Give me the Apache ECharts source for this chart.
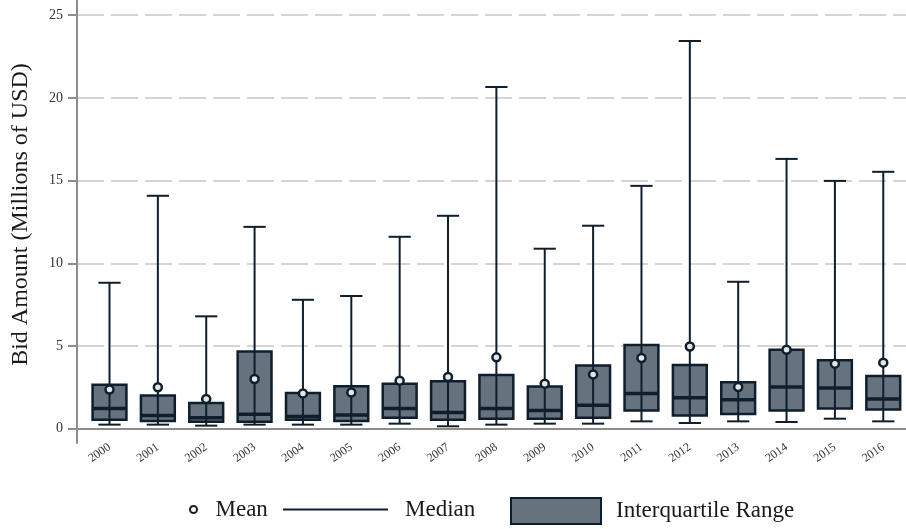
<!DOCTYPE html>
<html>
<head>
<meta charset="utf-8">
<script src="https://cdn.jsdelivr.net/npm/echarts@6/dist/echarts.min.js"></script>
<style>html,body{margin:0;padding:0;background:#fff;}#chart{width:906px;height:529px;}</style>
</head>
<body>
<div id="chart"></div>
<script>
// ---- data ----
const years  = [2000,2001,2002,2003,2004,2005,2006,2007,2008,2009,2010,2011,2012,2013,2014,2015,2016];
const whiskerLow  = [0.24,0.24,0.18,0.24,0.24,0.24,0.30,0.14,0.24,0.30,0.30,0.44,0.34,0.44,0.40,0.60,0.44];
const quartile1   = [0.54,0.46,0.42,0.42,0.54,0.46,0.66,0.54,0.60,0.60,0.66,1.09,0.79,0.89,1.09,1.21,1.15];
const medians     = [1.21,0.79,0.66,0.87,0.74,0.83,1.21,0.97,1.21,1.09,1.41,2.13,1.87,1.75,2.52,2.46,1.79];
const quartile3   = [2.66,2.01,1.55,4.67,2.16,2.56,2.72,2.86,3.24,2.54,3.81,5.06,3.85,2.80,4.77,4.13,3.18];
const whiskerHigh = [8.82,14.08,6.79,12.20,7.79,8.02,11.60,12.87,20.66,10.88,12.27,14.68,23.44,8.88,16.31,14.98,15.53];
const means       = [2.36,2.50,1.79,3.00,2.13,2.19,2.90,3.12,4.31,2.72,3.28,4.27,4.97,2.52,4.77,3.93,3.99];
const yTicks = [0,5,10,15,20,25];

// ---- styles ----
const DARK = '#0f1e2d';
const FILL = '#66737e';
const FONT = '"Liberation Serif", "DejaVu Serif", serif';
const BOX_W = 0.70;
const CAP_W = 0.46;

const boxData = years.map((y, i) => [y, whiskerLow[i], quartile1[i], medians[i], quartile3[i], whiskerHigh[i]]);
const meanData = years.map((y, i) => [y, means[i]]);

function renderBox(params, api) {
  const x = api.value(0);
  const lo = api.coord([x, api.value(1)]);
  const q1 = api.coord([x, api.value(2)]);
  const md = api.coord([x, api.value(3)]);
  const q3 = api.coord([x, api.value(4)]);
  const hi = api.coord([x, api.value(5)]);
  const bw = api.size([BOX_W, 0])[0];
  const cw = api.size([CAP_W, 0])[0];
  return {
    type: 'group',
    children: [
      {type: 'rect', shape: {x: q3[0] - bw / 2, y: q3[1], width: bw, height: q1[1] - q3[1]},
       style: {fill: FILL, stroke: DARK, lineWidth: 2.5}},
      {type: 'line', shape: {x1: lo[0], y1: lo[1], x2: hi[0], y2: hi[1]},
       style: {stroke: DARK, lineWidth: 2}},
      {type: 'line', shape: {x1: lo[0] - cw / 2, y1: lo[1], x2: lo[0] + cw / 2, y2: lo[1]},
       style: {stroke: DARK, lineWidth: 2}},
      {type: 'line', shape: {x1: hi[0] - cw / 2, y1: hi[1], x2: hi[0] + cw / 2, y2: hi[1]},
       style: {stroke: DARK, lineWidth: 2}},
      {type: 'line', shape: {x1: md[0] - bw / 2, y1: md[1], x2: md[0] + bw / 2, y2: md[1]},
       style: {stroke: DARK, lineWidth: 3.5}}
    ]
  };
}

const chart = echarts.init(document.getElementById('chart'), null, {renderer: 'canvas'});
const legendText = {fontFamily: FONT, fontSize: 23, color: '#1a1a1a'};
chart.setOption({
  animation: false,
  backgroundColor: '#ffffff',
  textStyle: {fontFamily: FONT},
  grid: {left: 77, right: 0, top: 0, bottom: 86, containLabel: false},
  xAxis: {
    type: 'value',
    min: 1999.328, max: 2016.47,
    axisLine: {show: true, lineStyle: {color: '#8c8c8c', width: 2}},
    axisTick: {show: false},
    splitLine: {show: false},
    axisLabel: {
      customValues: years,
      rotate: 35, margin: 3,
      fontFamily: FONT, fontSize: 12, color: '#333333',
      formatter: v => String(Math.round(v))
    }
  },
  yAxis: {
    type: 'value',
    min: -0.87, max: 25.92,
    name: 'Bid Amount (Millions of USD)',
    nameLocation: 'middle', nameGap: 44,
    nameTextStyle: {fontFamily: FONT, fontSize: 24, color: '#1a1a1a', padding: [0, 0, 0, 14]},
    axisLine: {show: true, lineStyle: {color: '#8c8c8c', width: 2}},
    axisTick: {show: true, customValues: yTicks, length: 9, lineStyle: {color: '#8c8c8c', width: 2}},
    axisLabel: {customValues: yTicks, margin: 14, fontFamily: FONT, fontSize: 14, color: '#333333'},
    splitLine: {show: true, lineStyle: {color: '#d4d4d4', width: 2, type: [27, 7]}}
  },
  legend: [
    {data: [{name: 'Mean', icon: 'circle'}], left: 189, top: 498, padding: 0, selectedMode: false,
     itemWidth: 14, itemHeight: 7, textStyle: Object.assign({padding: [0, 0, 0, 10]}, legendText),
     itemStyle: {color: '#ffffff', borderColor: DARK, borderWidth: 2}},
    {data: [{name: 'Median', icon: 'rect'}], left: 283, top: 498, padding: 0, selectedMode: false,
     itemWidth: 105, itemHeight: 2, textStyle: Object.assign({padding: [0, 0, 0, 12]}, legendText),
     itemStyle: {color: DARK, borderWidth: 0}},
    {data: [{name: 'Interquartile Range', icon: 'rect'}], left: 510, top: 497, padding: 0, selectedMode: false,
     itemWidth: 90, itemHeight: 26, textStyle: Object.assign({padding: [0, 0, 0, 10]}, legendText),
     itemStyle: {color: FILL, borderColor: DARK, borderWidth: 2}}
  ],
  series: [
    {
      name: 'Interquartile Range', type: 'custom', renderItem: renderBox,
      data: boxData, encode: {x: 0, y: [1, 2, 3, 4, 5]},
      itemStyle: {color: FILL}, z: 2
    },
    {
      name: 'Median', type: 'line', data: [], itemStyle: {color: DARK}, lineStyle: {color: DARK}
    },
    {
      name: 'Mean', type: 'scatter', data: meanData, symbol: 'circle', symbolSize: 8,
      itemStyle: {color: '#e4e7ea', borderColor: DARK, borderWidth: 2.5, opacity: 1}, z: 5
    }
  ]
});
</script>
</body>
</html>
